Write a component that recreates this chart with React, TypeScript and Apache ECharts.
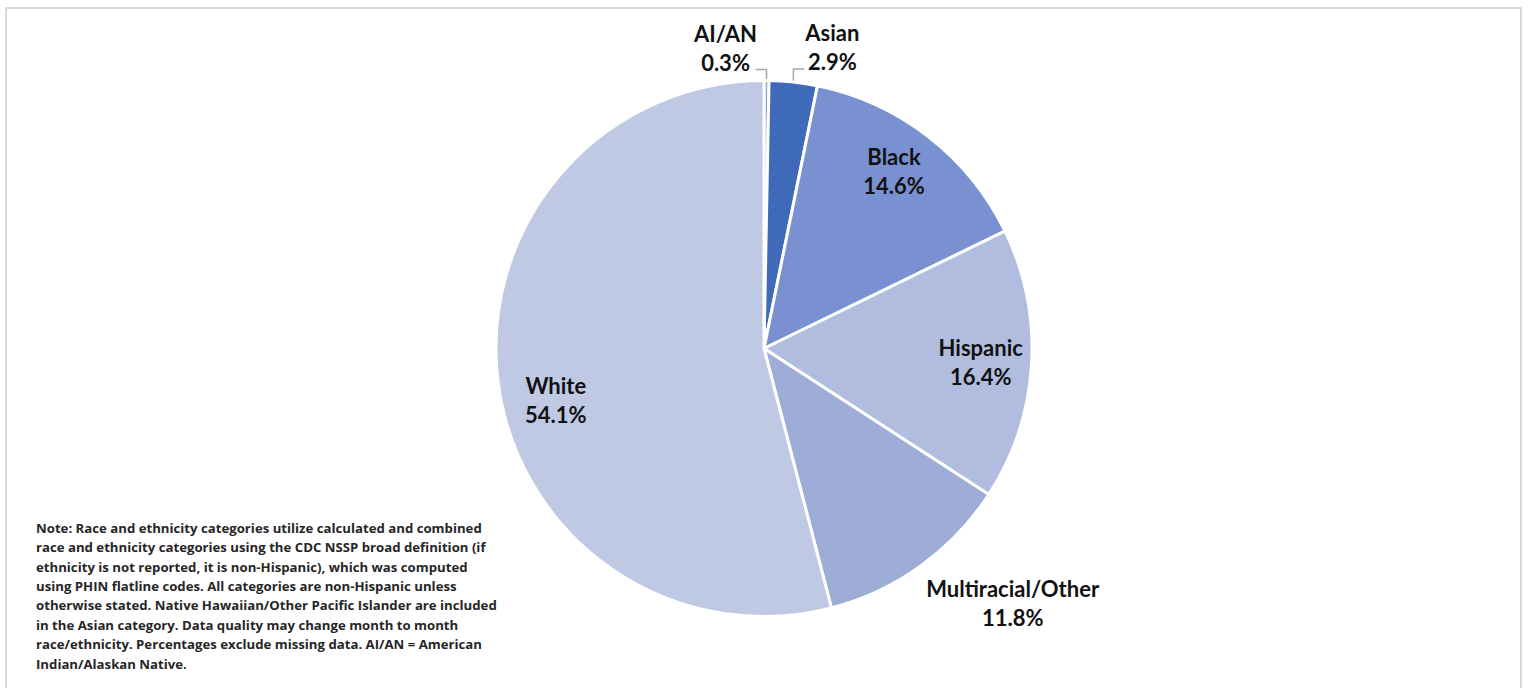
import React, { useEffect, useRef } from "react";
import * as echarts from "echarts";

const categories = ["AI/AN", "Asian", "Black", "Hispanic", "Multiracial/Other", "White"];
const percents = [0.3, 2.9, 14.6, 16.4, 11.8, 54.1];
const colors = ["#8ea2d6", "#3f69b9", "#7991d0", "#b1bddf", "#9eadd8", "#c0c9e4"];

const noteLines = [
  "Note: Race and ethnicity categories utilize calculated and combined",
  "race and ethnicity categories using the CDC NSSP broad definition (if",
  "ethnicity is not reported, it is non-Hispanic), which was computed",
  "using PHIN flatline codes. All categories are non-Hispanic unless",
  "otherwise stated. Native Hawaiian/Other Pacific Islander are included",
  "in the Asian category. Data quality may change month to month",
  "race/ethnicity. Percentages exclude missing data. AI/AN = American",
  "Indian/Alaskan Native.",
];

const CX = 764;
const CY = 348.5;
const R = 268;

const labelPlacement: Record<string, { rf: number; dAng: number; dx: number; dy: number; line: boolean }> = {
  "AI/AN": { rf: 1, dAng: 0, dx: -41, dy: -33, line: true },
  Asian: { rf: 1, dAng: 0, dx: 39, dy: -35, line: true },
  Black: { rf: 0.82, dAng: -1.5, dx: 0, dy: 0, line: false },
  Hispanic: { rf: 0.81, dAng: 0, dx: 0, dy: 0, line: false },
  "Multiracial/Other": { rf: 1, dAng: 0, dx: 92, dy: 37, line: false },
  White: { rf: 0.8, dAng: -6.5, dx: 0, dy: 0, line: false },
};

export default function App() {
  const ref = useRef<HTMLDivElement>(null);
  useEffect(() => {
    if (!ref.current) return;
    const chart = echarts.init(ref.current, null, { renderer: "svg" });
    const total = percents.reduce((a, b) => a + b, 0);
    const midAngles: number[] = [];
    let cum = 0;
    percents.forEach((p) => {
      midAngles.push(((cum + p / 2) / total) * 360);
      cum += p;
    });

    const font = "Lato, 'Open Sans', sans-serif";
    const noteFont = "'Open Sans', Lato, sans-serif";

    chart.setOption({
      animation: false,
      backgroundColor: "#ffffff",
      graphic: [
        {
          type: "rect",
          shape: { x: 6, y: 8, width: 1515, height: 700 },
          style: { fill: "none", stroke: "#d9d9d9", lineWidth: 2 },
          silent: true,
        },
        {
          type: "text",
          left: 36,
          top: 518,
          style: {
            text: noteLines.join("\n"),
            font: `bold 13.2px ${noteFont}`,
            lineHeight: 19.4,
            fill: "#262626",
          },
        },
      ],
      series: [
        {
          type: "pie",
          center: [CX, CY],
          radius: [0, R],
          startAngle: 90,
          clockwise: true,
          avoidLabelOverlap: false,
          itemStyle: { borderColor: "#ffffff", borderWidth: 3 },
          label: {
            show: true,
            formatter: (p: any) => `${p.name}\n${p.value.toFixed(1)}%`,
            fontFamily: font,
            fontWeight: "bold",
            fontSize: 22,
            lineHeight: 29,
            color: "#111111",
            align: "center",
          },
          labelLine: {
            show: true,
            lineStyle: { color: "#a6a6a6", width: 1.5 },
          },
          labelLayout: (params: any) => {
            const name = categories[params.dataIndex];
            const pl = labelPlacement[name];
            const ang = ((midAngles[params.dataIndex] + pl.dAng) * Math.PI) / 180;
            const ax = CX + R * pl.rf * Math.sin(ang);
            const ay = CY - R * pl.rf * Math.cos(ang);
            const lx = ax + pl.dx;
            const ly = ay + pl.dy;
            const out: any = { x: lx, y: ly, align: "center", verticalAlign: "middle" };
            if (pl.line) {
              const ex = CX + R * Math.sin(ang);
              const ey = CY - R * Math.cos(ang);
              const side = pl.dx < 0 ? lx + 30 : lx - 28;
              out.labelLinePoints = [
                [ex, ey],
                [ex, ly + 22],
                [side, ly + 22],
              ];
            } else {
              out.labelLinePoints = [
                [ax, ay],
                [ax, ay],
                [ax, ay],
              ];
            }
            return out;
          },
          data: categories.map((c, i) => ({
            name: c,
            value: percents[i],
            itemStyle: { color: colors[i] },
            labelLine: { show: labelPlacement[c].line },
          })),
        },
      ],
    });
    return () => chart.dispose();
  }, []);

  return (
    <div
      ref={ref}
      style={{ position: "absolute", left: 0, top: 0, width: 1530, height: 688 }}
    />
  );
}
